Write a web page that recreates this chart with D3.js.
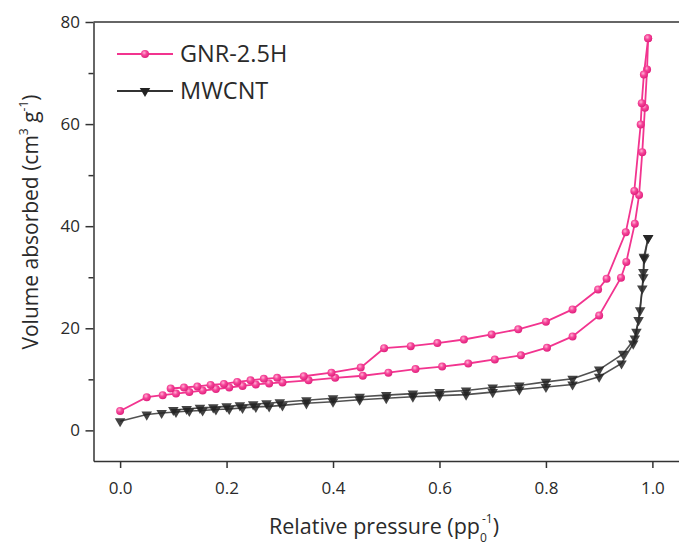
<!DOCTYPE html>
<html>
<head>
<meta charset="utf-8">
<script src="https://cdn.jsdelivr.net/npm/d3@7"></script>
<style>
  body { margin: 0; background: #fff; }
  #chart { width: 679px; height: 550px; }
  text { font-family: "Open Sans", "DejaVu Sans", sans-serif; fill: #2a2a2a; }
</style>
</head>
<body>
<div id="chart"></div>
<script>
// GNR-2.5H adsorption branch
const gnrAdsX = [0, 0.05, 0.08, 0.105, 0.13, 0.155, 0.18, 0.205, 0.23, 0.255, 0.28, 0.305, 0.354, 0.404, 0.456, 0.504, 0.555, 0.605, 0.654, 0.704, 0.753, 0.802, 0.85, 0.9, 0.941, 0.951, 0.967, 0.975, 0.981, 0.986, 0.99, 0.992];
const gnrAdsY = [3.8, 6.5, 6.9, 7.2, 7.5, 7.8, 8.1, 8.4, 8.7, 9.0, 9.2, 9.4, 9.8, 10.3, 10.7, 11.3, 12.0, 12.5, 13.1, 13.9, 14.7, 16.2, 18.4, 22.5, 29.9, 33.0, 40.5, 46.1, 54.5, 63.2, 70.7, 76.8];
// GNR-2.5H desorption branch
const gnrDesX = [0.992, 0.984, 0.98, 0.978, 0.966, 0.95, 0.914, 0.898, 0.85, 0.8, 0.748, 0.698, 0.646, 0.596, 0.546, 0.496, 0.452, 0.397, 0.345, 0.295, 0.27, 0.245, 0.22, 0.195, 0.17, 0.145, 0.12, 0.095];
const gnrDesY = [76.8, 69.7, 64.1, 59.9, 46.9, 38.8, 29.7, 27.6, 23.7, 21.3, 19.8, 18.8, 17.8, 17.1, 16.5, 16.1, 12.3, 11.3, 10.6, 10.3, 10.1, 9.8, 9.5, 9.1, 8.9, 8.6, 8.4, 8.2];
// MWCNT adsorption branch
const cntAdsX = [0, 0.05, 0.078, 0.105, 0.13, 0.155, 0.18, 0.205, 0.23, 0.255, 0.28, 0.305, 0.35, 0.4, 0.45, 0.5, 0.55, 0.6, 0.65, 0.7, 0.75, 0.8, 0.85, 0.9, 0.942, 0.964, 0.974, 0.981, 0.983, 0.984, 0.992];
const cntAdsY = [1.8, 3.1, 3.4, 3.6, 3.8, 3.9, 4.1, 4.2, 4.4, 4.6, 4.7, 4.9, 5.3, 5.6, 6.0, 6.3, 6.6, 6.8, 7.0, 7.5, 8.0, 8.5, 9.0, 10.5, 13.1, 17.0, 21.6, 27.8, 31.0, 34.0, 37.7];
// MWCNT desorption branch
const cntDesX = [0.992, 0.985, 0.983, 0.977, 0.97, 0.967, 0.945, 0.9, 0.85, 0.8, 0.75, 0.7, 0.65, 0.6, 0.55, 0.5, 0.45, 0.4, 0.35, 0.3, 0.275, 0.25, 0.225, 0.2, 0.175, 0.15, 0.125, 0.1];
const cntDesY = [37.7, 33.7, 30.0, 23.5, 19.3, 18.0, 15.0, 11.9, 10.1, 9.5, 8.8, 8.4, 7.8, 7.5, 7.2, 6.9, 6.6, 6.3, 5.9, 5.5, 5.3, 5.1, 4.9, 4.7, 4.5, 4.4, 4.2, 4.0];

const xTicks = [0, 0.2, 0.4, 0.6, 0.8, 1.0];
const yTicks = [0, 20, 40, 60, 80];
const yMinorTicks = [10, 30, 50, 70];

const pink = "#f2348f";
const dark = "#333333";

const margin = {top: 22, right: 0, bottom: 89, left: 93.5};
const width = 679 - margin.left - margin.right;
const height = 550 - margin.top - margin.bottom;

const svg = d3.select("#chart")
    .append("svg")
    .attr("width", 679)
    .attr("height", 550);

const defs = svg.append("defs");
const grad = defs.append("radialGradient")
    .attr("id", "ball")
    .attr("cx", "40%").attr("cy", "35%").attr("r", "65%");
grad.append("stop").attr("offset", "0%").attr("stop-color", "#ffb3d6");
grad.append("stop").attr("offset", "45%").attr("stop-color", "#f6479a");
grad.append("stop").attr("offset", "100%").attr("stop-color", "#e0207d");

const g = svg.append("g")
    .attr("transform", "translate(" + margin.left + "," + margin.top + ")");

let x = d3.scaleLinear().domain([-0.05, 1.05]).range([0, width]);
let y = d3.scaleLinear().domain([-6, 80]).range([height, 0]);

function pts(xs, ys) {
    return xs.map(function (v, i) { return [v, ys[i]]; });
}

const line = d3.line()
    .x(function (d) { return x(d[0]); })
    .y(function (d) { return y(d[1]); });

const tri = d3.symbol().type(d3.symbolTriangle).size(48);

function drawSeries(data, color, width, kind) {
    g.append("path")
        .attr("d", line(data))
        .attr("fill", "none")
        .attr("stroke", color)
        .attr("stroke-width", width)
        .attr("stroke-opacity", kind === "tri" ? 0.85 : 1);
    if (kind === "ball") {
        g.selectAll(null)
            .data(data)
            .enter().append("circle")
            .attr("cx", function (d) { return x(d[0]); })
            .attr("cy", function (d) { return y(d[1]); })
            .attr("r", 4)
            .attr("fill", "url(#ball)");
    } else {
        g.selectAll(null)
            .data(data)
            .enter().append("path")
            .attr("d", tri)
            .attr("transform", function (d) {
                return "translate(" + x(d[0]) + "," + y(d[1]) + ") rotate(180)";
            })
            .attr("fill", "#222")
            .attr("fill-opacity", 0.85);
    }
}

drawSeries(pts(cntAdsX, cntAdsY), dark, 1.6, "tri");
drawSeries(pts(cntDesX, cntDesY), dark, 1.6, "tri");
drawSeries(pts(gnrAdsX, gnrAdsY), pink, 1.8, "ball");
drawSeries(pts(gnrDesX, gnrDesY), pink, 1.8, "ball");

// axes
const xAxis = g.append("g")
    .attr("transform", "translate(0," + height + ")")
    .call(d3.axisBottom(x).tickValues(xTicks).tickFormat(d3.format(".1f")).tickSize(7).tickSizeOuter(0));
xAxis.selectAll("text").style("font-size", "17px").attr("dy", "1.35em");

const yAxis = g.append("g")
    .call(d3.axisLeft(y).tickValues(yTicks).tickSize(8).tickSizeOuter(0));
yAxis.selectAll("text").style("font-size", "17px").attr("dx", "-0.15em");

g.append("g")
    .call(d3.axisLeft(y).tickValues(yMinorTicks).tickSize(5).tickFormat("").tickSizeOuter(0))
    .select(".domain").remove();

g.selectAll(".domain, .tick line").attr("stroke", dark).attr("stroke-width", 1.5);

// top border
g.append("line")
    .attr("x1", 0).attr("x2", width)
    .attr("y1", 0).attr("y2", 0)
    .attr("stroke", dark).attr("stroke-width", 1.5);

// axis titles
const xt = svg.append("text")
    .attr("x", 384).attr("y", 534)
    .attr("text-anchor", "middle")
    .style("font-size", "21.5px");
xt.append("tspan").text("Relative pressure (pp");
xt.append("tspan").attr("dy", 8).style("font-size", "12px").text("0");
xt.append("tspan").attr("dy", -19).attr("dx", -5).style("font-size", "12px").text("-1");
xt.append("tspan").attr("dy", 11).text(")");

const yt = svg.append("text")
    .attr("transform", "translate(38,222) rotate(-90)")
    .attr("text-anchor", "middle")
    .style("font-size", "21px");
yt.append("tspan").text("Volume absorbed (cm");
yt.append("tspan").attr("dy", -10).style("font-size", "12px").text("3");
yt.append("tspan").attr("dy", 10).text(" g");
yt.append("tspan").attr("dy", -10).style("font-size", "12px").text("-1");
yt.append("tspan").attr("dy", 10).text(")");

// legend
const legend = svg.append("g");
const legendItems = [
    {name: "GNR-2.5H", color: pink, kind: "ball", yPos: 54},
    {name: "MWCNT", color: dark, kind: "tri", yPos: 91}
];
legendItems.forEach(function (d) {
    legend.append("line")
        .attr("x1", 117).attr("x2", 173)
        .attr("y1", d.yPos).attr("y2", d.yPos)
        .attr("stroke", d.color).attr("stroke-width", 1.8);
    if (d.kind === "ball") {
        legend.append("circle").attr("cx", 145).attr("cy", d.yPos).attr("r", 4).attr("fill", "url(#ball)");
    } else {
        legend.append("path").attr("d", tri)
            .attr("transform", "translate(145," + d.yPos + ") rotate(180)")
            .attr("fill", "#222");
    }
    legend.append("text")
        .attr("x", 180).attr("y", d.yPos)
        .attr("dy", "0.35em")
        .style("font-size", "23.5px")
        .text(d.name);
});
</script>
</body>
</html>
